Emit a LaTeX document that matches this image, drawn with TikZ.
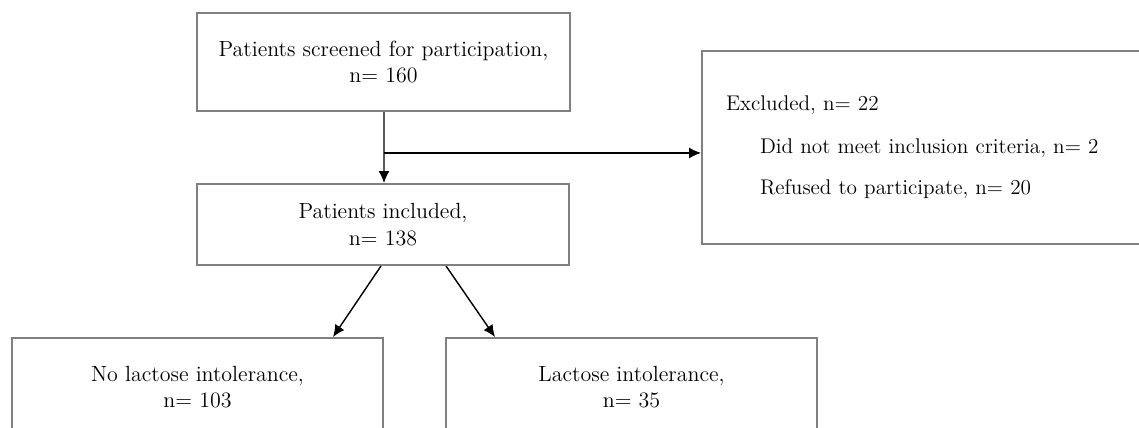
\documentclass[tikz,border=0pt]{standalone}
\usepackage{amsmath,amssymb}
\usepackage{xcolor}
\usepackage{tikz}
\usetikzlibrary{arrows.meta,positioning,calc}

\begin{document}
\begin{tikzpicture}[x=0.02cm, y=-0.02cm,
  box/.style={rectangle, draw=black!50, line width=1.1pt, align=center, font=\fontsize{12.5}{15}\selectfont},
  line/.style={draw, -{Latex[length=2.4mm, width=2.2mm]}, line width=0.8pt}]

  \useasboundingbox (0,0) rectangle (1139,428);
  \clip (0,0) rectangle (1139,428);

  \node [box, minimum width=7.46cm, minimum height=1.96cm] (screened) at (383.5,62) {Patients screened for participation,\\n= 160};
  \node [box, minimum width=7.44cm, minimum height=1.62cm] (included) at (383,224.5) {Patients included,\\n= 138};
  \node [box, text width=8.0cm, inner xsep=0.48cm, minimum height=3.86cm, align=left, font=\fontsize{12.1}{14.7}\selectfont] (excluded) at (926,147.5)
    {Excluded, n= 22\\[0.34cm]\hspace*{0.68cm}Did not meet inclusion criteria, n= 2\\[0.3cm]\hspace*{0.68cm}Refused to participate, n= 20};
  \node [box, minimum width=7.42cm, minimum height=1.96cm] (nolactose) at (197.5,387) {No lactose intolerance,\\n= 103};
  \node [box, minimum width=7.42cm, minimum height=1.96cm] (lactose) at (631.5,387) {Lactose intolerance,\\n= 35};

  \coordinate (split) at ($(screened.south)+(0.5,41)$);

  \path [line] ($(screened.south)+(0.5,0)$) -- ($(included.north)+(1,0)$);
  \path [line] (split) -- (split -| excluded.west);
  \path [line] ($(included.south)+(-2,0)$) -- ($(nolactose.north)+(135.5,0)$);
  \path [line] ($(included.south)+(63,0)$) -- ($(lactose.north)+(-136.5,0)$);
\end{tikzpicture}
\end{document}
